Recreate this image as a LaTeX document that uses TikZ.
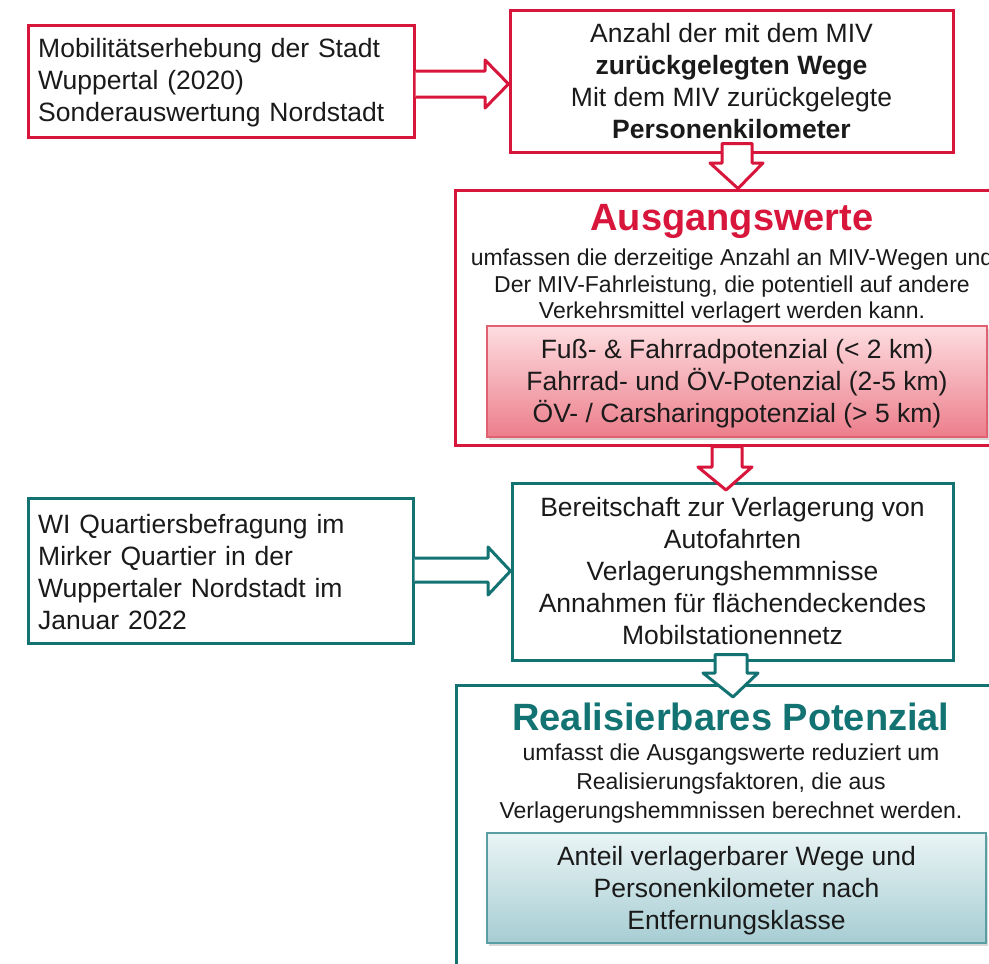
\documentclass[tikz,border=0pt]{standalone}
\usepackage{fontspec}
\setmainfont{Liberation Sans}
\usetikzlibrary{shadows,calc}
\definecolor{wred}{HTML}{D8163C}
\definecolor{wteal}{HTML}{137272}
\definecolor{pinkTop}{HTML}{FDDDE0}
\definecolor{pinkBot}{HTML}{EC7E8B}
\definecolor{pinkLine}{HTML}{E06272}
\definecolor{blueTop}{HTML}{EAF4F5}
\definecolor{blueBot}{HTML}{A6CDD3}
\definecolor{blueLine}{HTML}{5A9EA4}
\definecolor{txt}{HTML}{1A1A1A}
\newcommand\mainsize{\fontsize{26.5}{32}\selectfont}
\newcommand\descsize{\fontsize{23}{26.5}\selectfont}
\newcommand\titlesize{\fontsize{38}{40}\selectfont\bfseries}
\tikzset{
  outerbox/.style={draw=#1, line width=3pt, fill=white, inner sep=0pt, rectangle,
    drop shadow={opacity=0.18, shadow xshift=1.5pt, shadow yshift=-2pt}},
  innerpink/.style={draw=pinkLine, line width=1.2pt, top color=pinkTop, bottom color=pinkBot,
    inner sep=0pt, rectangle, text=txt, align=center, font=\mainsize,
    drop shadow={opacity=0.3, shadow xshift=2pt, shadow yshift=-3pt}},
  innerblue/.style={draw=blueLine, line width=1.2pt, top color=blueTop, bottom color=blueBot,
    inner sep=0pt, rectangle, text=txt, align=center, font=\mainsize,
    drop shadow={opacity=0.3, shadow xshift=2pt, shadow yshift=-3pt}},
  maintext/.style={text=txt, font=\mainsize, inner sep=0pt},
  desctext/.style={text=txt, inner sep=0pt, align=center},
  harrow/.style={draw=#1, line width=3pt, fill=white, line join=round},
}
\begin{document}
\begin{tikzpicture}[x=1pt,y=-1pt]
\useasboundingbox (0,0) rectangle (989,964);
\clip (0,0) rectangle (989,964);
\fill[white] (0,0) rectangle (989,964);

% Box 1
\node[outerbox=wred, minimum width=386pt, minimum height=112pt] (b1) at (221,81) {};
\node[maintext, anchor=west, text width=370pt, align=left] (t1) at (38,83)
  {Mobilitätserhebung der Stadt\\Wuppertal (2020)\\Sonderauswertung Nordstadt};

% Box 2
\node[outerbox=wred, minimum width=443pt, minimum height=142pt] (b2) at (731.5,81) {};
\node[maintext, align=center] (t2) at (731.5,81)
  {Anzahl der mit dem MIV\\\textbf{zurückgelegten Wege}\\Mit dem MIV zurückgelegte\\\textbf{Personenkilometer}};

% Box 3 (Ausgangswerte)
\node[outerbox=wred, minimum width=554pt, minimum height=255pt] (b3) at (732,317.5) {};
\node[inner sep=0pt, text=wred, font=\titlesize] (h3) at (732,221) {Ausgangswerte};
\node[desctext, font=\descsize] (d3) at (732,286.5)
  {umfassen die derzeitige Anzahl an MIV-Wegen und\\Der MIV-Fahrleistung, die potentiell auf andere\\Verkehrsmittel verlagert werden kann.};
\node[innerpink, minimum width=500pt, minimum height=111pt] (p3) at (737,381.5) {};
\node[maintext, align=center] (q3) at (737,383.5)
  {Fuß- \& Fahrradpotenzial (< 2 km)\\Fahrrad- und ÖV-Potenzial (2-5 km)\\ÖV- / Carsharingpotenzial (> 5 km)};

% Box 5 (WI)
\node[outerbox=wteal, minimum width=385pt, minimum height=145pt] (b5) at (220.5,570.5) {};
\node[maintext, anchor=west, text width=370pt, align=left] (t5) at (38,572)
  {WI Quartiersbefragung im\\Mirker Quartier in der\\Wuppertaler Nordstadt im\\Januar 2022};

% Box 4
\node[outerbox=wteal, minimum width=441pt, minimum height=177pt] (b4) at (732.5,571.5) {};
\node[maintext, align=center] (t4) at (732.5,571.5)
  {Bereitschaft zur Verlagerung von\\Autofahrten\\Verlagerungshemmnisse\\Annahmen für flächendeckendes\\Mobilstationennetz};

% Box 6 (Realisierbares Potenzial)
\node[outerbox=wteal, minimum width=552pt, minimum height=300pt] (b6) at (732,835) {};
\node[inner sep=0pt, text=wteal, font=\titlesize] (h6) at (731,717) {Realisierbares Potenzial};
\node[desctext, font=\fontsize{23}{29}\selectfont] (d6) at (731,784)
  {umfasst die Ausgangswerte reduziert um\\Realisierungsfaktoren, die aus\\Verlagerungshemmnissen berechnet werden.};
\node[innerblue, minimum width=499pt, minimum height=110pt] (p6) at (736.5,888) {};
\node[maintext, align=center] (q6) at (736.5,891)
  {Anteil verlagerbarer Wege und\\Personenkilometer nach\\Entfernungsklasse};

% Arrows
\draw[harrow=wred] (b1.east |- 0,71) -- (485,71) -- (485,60) -- (b2.west |- 0,84)
  -- (485,108) -- (485,97) -- (b1.east |- 0,97);
\draw[harrow=wred] (b2.south -| 722,0) ++(0,-10) -- ++(30,0) -- (752,163) -- (763,163) -- (b3.north -| 738,0)
  -- (710,163) -- (722,163) -- cycle;
\draw[harrow=wred] (b3.south -| 712,0) -- (b3.south -| 742,0) -- (742,467) -- (752,467) -- (726,490)
  -- (698,467) -- (712,467) -- cycle;
\draw[harrow=wteal] (b5.east |- 0,558) -- (488,558) -- (488,547) -- (b4.west |- 0,571)
  -- (488,595) -- (488,582) -- (b5.east |- 0,582);
\draw[harrow=wteal] (b4.south -| 715,0) ++(0,-7) -- ++(32,0) -- (747,673) -- (758,673) -- (733,697)
  -- (703,673) -- (715,673) -- cycle;
\end{tikzpicture}
\end{document}
